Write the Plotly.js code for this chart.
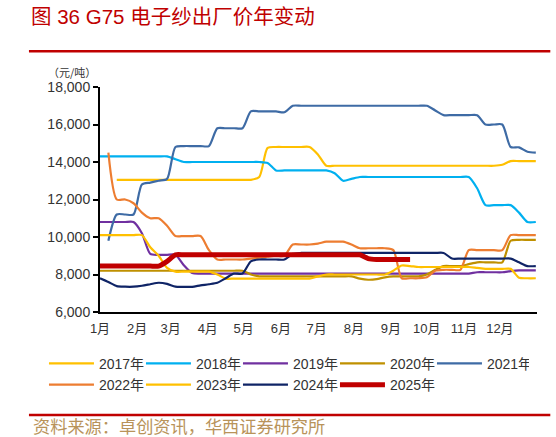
<!DOCTYPE html>
<html>
<head>
<meta charset="utf-8">
<script src="https://cdn.plot.ly/plotly-3.0.1.min.js"></script>
<style>
html,body{margin:0;padding:0;background:#fff;}
#chart{width:556px;height:437px;}
</style>
</head>
<body>
<div id="chart"></div>
<script>
// ---- data ----
var weekDates = [
 "01-01","01-08","01-15","01-22","01-29",
 "02-05","02-12","02-19","02-26",
 "03-05","03-12","03-19","03-26",
 "04-02","04-09","04-16","04-23","04-30",
 "05-07","05-14","05-21","05-28",
 "06-04","06-11","06-18","06-25",
 "07-02","07-09","07-16","07-23","07-30",
 "08-06","08-13","08-20","08-27",
 "09-03","09-10","09-17","09-24",
 "10-01","10-08","10-15","10-22","10-29",
 "11-05","11-12","11-19","11-26",
 "12-03","12-10","12-17","12-24","12-31"
];
var monthStarts = ["01-01","02-01","03-01","04-01","05-01","06-01","07-01","08-01","09-01","10-01","11-01","12-01"];
var monthLabels = ["1月","2月","3月","4月","5月","6月","7月","8月","9月","10月","11月","12月"];
var yTicks = [6000, 8000, 10000, 12000, 14000, 16000, 18000];
var seriesNames = ["2017年","2018年","2019年","2020年","2021年","2022年","2023年","2024年","2025年"];

var y2017 = [null,null,13050,13050,13050,13050,13050,13050,13050,13050,13050,13050,13050,13050,13050,13050,13050,13050,13050,13200,14750,14800,14800,14800,14800,14800,14400,13800,13800,13800,13800,13800,13800,13800,13800,13800,13800,13800,13800,13800,13800,13800,13800,13800,13800,13800,13800,13800,13850,14050,14050,14050,14050];
var y2018 = [14300,14300,14300,14300,14300,14300,14300,14300,14300,14150,14000,14000,14000,14000,14000,14000,14000,14000,14000,14000,13950,13550,13550,13550,13550,13550,13550,13550,13400,13000,13100,13200,13200,13200,13200,13200,13200,13200,13200,13200,13200,13200,13200,13200,13200,12600,11700,11700,11700,11700,11300,10800,10800];
var y2019 = [10800,10800,10800,10800,10800,10200,9100,9050,9050,9050,8500,8080,8050,8050,8050,8050,8050,8050,8050,8050,8050,8050,8050,8050,8050,8050,8050,8050,8050,8050,8050,8050,8050,8050,8050,8050,8050,8050,8050,8050,8050,8050,8050,8050,8050,8120,8120,8120,8120,8180,8220,8220,8220];
var y2020 = [8200,8200,8200,8200,8200,8200,8200,8200,8200,8200,8200,8200,8200,8200,8200,8200,8200,8200,8000,7900,7900,7900,7900,7900,7900,7900,7900,7900,7900,7900,7900,7780,7720,7750,7850,7900,7900,7900,7900,8000,8250,8450,8450,8450,8550,8650,8650,8650,8650,9800,9850,9850,9850];
var y2021 = [null,9800,11200,11200,11200,12800,12900,13000,13100,14800,14850,14850,14850,14850,15800,15800,15800,15800,16700,16700,16700,16700,16650,17000,17000,17000,17000,17000,17000,17000,17000,17000,17000,17000,17000,17000,17000,17000,17000,17000,16750,16500,16500,16500,16500,16500,16000,16000,16000,14800,14780,14550,14500];
var y2022 = [null,14500,12000,12000,11800,11300,11000,11000,10600,10050,10050,10050,10050,9300,8800,8800,8800,8800,8850,8900,8950,9000,9000,9600,9600,9600,9650,9750,9750,9750,9600,9400,9400,9400,9400,9300,7800,7800,7800,7850,8200,8250,8250,8250,9300,9300,9300,9300,9300,10100,10100,10100,10100];
var y2023 = [10100,10100,10100,10100,10100,10100,9450,9000,8350,8150,8150,8150,8150,8150,8000,7780,7780,7780,7780,7780,7780,7780,7780,7780,7780,7780,7900,8000,8000,8000,8000,8000,8000,8000,8000,8200,8480,8450,8400,8400,8400,8400,8400,8400,8400,8350,8300,8300,8300,8300,7830,7800,7800];
var y2024 = [7800,7600,7380,7350,7350,7400,7480,7560,7500,7350,7340,7340,7420,7480,7560,7800,8050,8050,8700,8800,8800,8800,8800,9100,9150,9150,9150,9150,9150,9150,9150,9150,9150,9150,9150,9150,9150,9150,9150,9150,9150,9150,8850,8850,8850,8850,8850,8850,8850,8850,8650,8450,8450];
var y2025 = [8450,8450,8450,8450,8450,8450,8450,8450,8700,9050,9050,9050,9050,9050,9050,9050,9050,9050,9050,9050,9050,9050,9050,9050,9050,9050,9050,9050,9050,9050,9050,9050,8850,8800,8800,8800,8800,8800];

// ---- styles ----
var refYear = "2025-";
var seriesValues = [y2017,y2018,y2019,y2020,y2021,y2022,y2023,y2024,y2025];
var colors = ["#FFC000","#00B0F0","#7030A0","#BF9000","#3E6BA5","#ED7D31","#FFC000","#0F2466","#C00000"];
var widths = [2.2,2.2,2.2,2.2,2.2,2.2,2.2,2.2,5];

var xDates = weekDates.map(function(d){ return refYear + d; });

var traces = seriesValues.map(function(vals, k){
  return {
    type: "scatter",
    mode: "lines",
    name: seriesNames[k],
    x: xDates.slice(0, vals.length),
    y: vals,
    connectgaps: false,
    line: {color: colors[k], width: widths[k], shape: "spline", smoothing: 0.7},
    hoverinfo: "skip"
  };
});

// plot area in pixels
var W = 556, H = 437;
var PL = 100, PR = 536.7, PT = 86.5, PB = 312.5;
function px(x){ return (x - PL) / (PR - PL); }
function py(y){ return (PB - y) / (PB - PT); }

var FONT = "Liberation Sans, Arial, Noto Sans CJK SC, sans-serif";

var layout = {
  width: W, height: H,
  paper_bgcolor: "#ffffff",
  plot_bgcolor: "#ffffff",
  margin: {l: PL, r: W - PR, t: PT, b: H - PB, pad: 0},
  showlegend: true,
  font: {family: FONT, color: "#333333"},
  title: {
    text: "图 36 G75 电子纱出厂价年变动",
    x: 31 / W, xanchor: "left",
    y: 1 - 17 / H, yanchor: "middle",
    font: {size: 20.5, color: "#C00000", family: "Liberation Sans, Noto Sans CJK SC, sans-serif"}
  },
  xaxis: {
    type: "date",
    range: [refYear + "01-01", "2026-01-01"],
    tickmode: "array",
    tickvals: monthStarts.map(function(d){ return refYear + d; }),
    ticktext: monthLabels,
    ticks: "",
    ticklabelstandoff: 3,
    showgrid: false,
    zeroline: false,
    showline: true, linecolor: "#000000", linewidth: 2,
    tickfont: {size: 13, color: "#333333", family: FONT},
    fixedrange: true
  },
  yaxis: {
    range: [6000, 18000],
    tickmode: "array",
    tickvals: yTicks,
    tickformat: ",d",
    ticks: "outside", ticklen: 5, tickwidth: 2, tickcolor: "#000000",
    showgrid: false,
    zeroline: false,
    showline: true, linecolor: "#000000", linewidth: 2,
    tickfont: {size: 14, color: "#333333", family: FONT},
    fixedrange: true
  },
  legend: {
    orientation: "h",
    x: px(44), xanchor: "left",
    y: py(348.5), yanchor: "top",
    entrywidth: 37, entrywidthmode: "pixels",
    itemwidth: 45,
    tracegroupgap: 0,
    font: {size: 14, color: "#333333", family: FONT},
    bgcolor: "rgba(0,0,0,0)"
  },
  annotations: [
    {text: "（元/吨）", xref: "paper", yref: "paper", x: px(72), y: py(71),
     xanchor: "center", yanchor: "middle", showarrow: false,
     font: {size: 11, color: "#333333", family: "Noto Sans CJK SC, sans-serif"}},
    {text: "资料来源：卓创资讯，华西证券研究所", xref: "paper", yref: "paper", x: px(31), y: py(426.5),
     xanchor: "left", yanchor: "middle", showarrow: false,
     font: {size: 17.2, color: "#B8935A", family: "Noto Sans CJK SC, sans-serif"}}
  ],
  shapes: [
    {type: "line", xref: "paper", yref: "paper", x0: px(29), x1: px(550), y0: py(50.7), y1: py(50.7),
     line: {color: "#C00000", width: 2.5}},
    {type: "line", xref: "paper", yref: "paper", x0: px(29), x1: px(550), y0: py(416), y1: py(416),
     line: {color: "#C00000", width: 2.5}}
  ]
};

Plotly.newPlot("chart", traces, layout, {displayModeBar: false, staticPlot: true});
</script>
</body>
</html>
